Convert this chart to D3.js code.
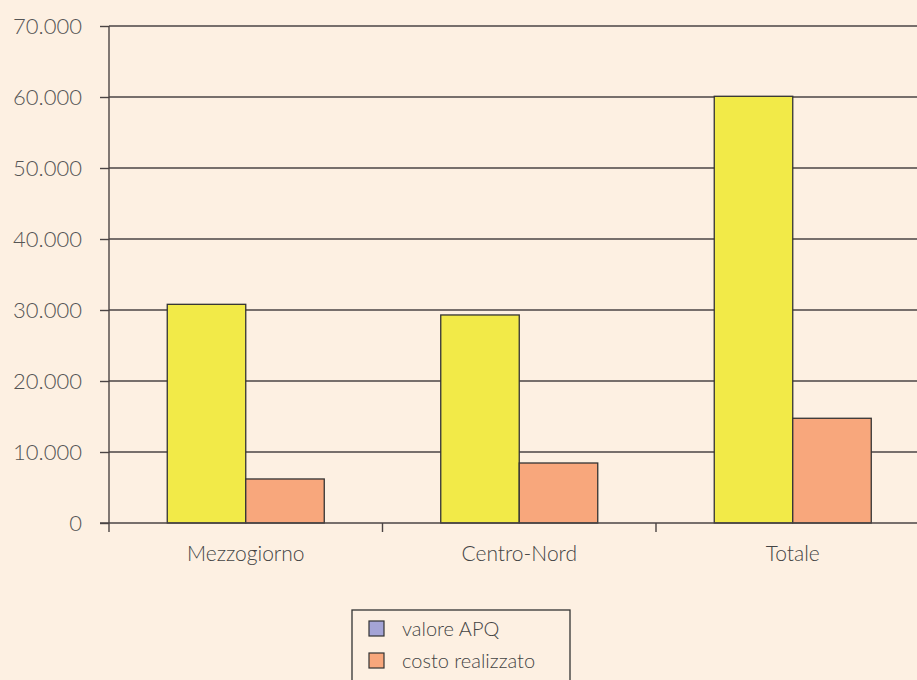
<!DOCTYPE html>
<html><head><meta charset="utf-8">
<script src="https://cdn.jsdelivr.net/npm/d3@7"></script>
<style>html,body{margin:0;padding:0;background:#fdf0e2;overflow:hidden}</style>
</head><body>
<svg id="c" width="917" height="680"></svg>
<script>
const categories = ["Mezzogiorno", "Centro-Nord", "Totale"];
const seriesNames = ["valore APQ", "costo realizzato"];
const valoreAPQ = [30800, 29300, 60100];
const costoRealizzato = [6200, 8450, 14750];
const yTicks = [0, 10000, 20000, 30000, 40000, 50000, 60000, 70000];
const yTickLabels = ["0", "10.000", "20.000", "30.000", "40.000", "50.000", "60.000", "70.000"];

const barColors = ["#f2ea48", "#f8a77c"];
const legendColors = ["#a4a4d6", "#f8a77c"];
const font = "Lato, 'Open Sans', sans-serif";

const svg = d3.select("#c");
svg.append("rect").attr("width", 917).attr("height", 680).attr("fill", "#fdf0e2");

const x0 = 109, x1 = 929.5, yTop = 26, yBot = 523;
const x = d3.scaleBand().domain(categories).range([x0, x1]).paddingInner(0).paddingOuter(0);
const xs = d3.scaleBand().domain(seriesNames).range([0, x.bandwidth()]).paddingOuter(0.742).paddingInner(0);
const y = d3.scaleLinear().domain([0, 70000]).range([yBot, yTop]);

// gridlines
svg.append("g").selectAll("line").data(yTicks.slice(1)).join("line")
  .attr("x1", x0).attr("x2", 917).attr("y1", d => y(d)).attr("y2", d => y(d))
  .attr("stroke", "#4a4444").attr("stroke-width", 1.4);

// y axis
const yAxis = d3.axisLeft(y).tickValues(yTicks).tickSize(9).tickPadding(18)
  .tickFormat((d, i) => yTickLabels[i]);
const gy = svg.append("g").attr("transform", `translate(${x0},0)`).call(yAxis);
gy.select(".domain").remove();
gy.selectAll(".tick line").attr("stroke", "#4a4444").attr("stroke-width", 1.4);
gy.selectAll(".tick text").attr("font-family", font).attr("font-weight", 300)
  .attr("font-size", 22).attr("fill", "#555");
svg.append("line").attr("x1", x0).attr("x2", x0).attr("y1", yTop).attr("y2", yBot + 9)
  .attr("stroke", "#4a4444").attr("stroke-width", 1.4);

// bars
const data = categories.map((c, i) => ({c, vals: [valoreAPQ[i], costoRealizzato[i]]}));
const groups = svg.append("g").selectAll("g").data(data).join("g")
  .attr("transform", d => `translate(${x(d.c)},0)`);
groups.selectAll("rect").data(d => d.vals.map((v, j) => ({s: seriesNames[j], v, j}))).join("rect")
  .attr("x", d => xs(d.s)).attr("width", xs.bandwidth())
  .attr("y", d => y(d.v)).attr("height", d => yBot - y(d.v))
  .attr("fill", d => barColors[d.j]).attr("stroke", "#333").attr("stroke-width", 1.3);

// x axis
svg.append("line").attr("x1", x0 - 9).attr("x2", 917).attr("y1", yBot).attr("y2", yBot)
  .attr("stroke", "#4a4444").attr("stroke-width", 1.4);
const xAxis = d3.axisBottom(x).tickSize(0).tickPadding(23);
const gx = svg.append("g").attr("transform", `translate(0,${yBot})`).call(xAxis);
gx.select(".domain").remove();
gx.selectAll(".tick text").attr("font-family", font).attr("font-weight", 300)
  .attr("font-size", 21).attr("fill", "#444");
svg.append("g").selectAll("line").data(categories.slice(1)).join("line")
  .attr("x1", d => x(d)).attr("x2", d => x(d)).attr("y1", yBot).attr("y2", yBot + 9)
  .attr("stroke", "#4a4444").attr("stroke-width", 1.4);

// legend
const lg = svg.append("g");
lg.append("rect").attr("x", 352).attr("y", 610).attr("width", 218).attr("height", 80)
  .attr("fill", "none").attr("stroke", "#333").attr("stroke-width", 1.3);
const items = lg.selectAll("g").data(seriesNames).join("g")
  .attr("transform", (d, i) => `translate(369,${621 + i * 32})`);
items.append("rect").attr("width", 15).attr("height", 15)
  .attr("fill", (d, i) => legendColors[i]).attr("stroke", "#333").attr("stroke-width", 1.2);
items.append("text").attr("x", 33).attr("y", 15).text(d => d)
  .attr("font-family", font).attr("font-weight", 300).attr("font-size", 20).attr("fill", "#444");
</script>
</body></html>
